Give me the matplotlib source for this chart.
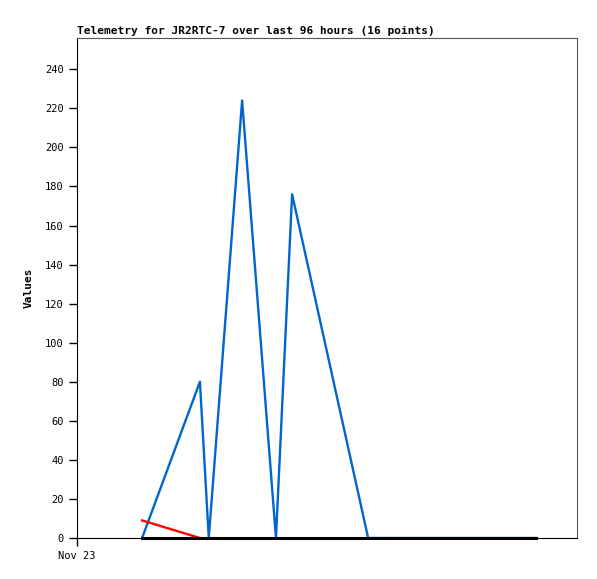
import matplotlib.pyplot as plt
import numpy as np

# hours since Nov 23 00:00
blue_x = [12.5, 23.6, 25.3, 31.7, 38.2, 41.3, 55.9, 70.0, 88.1]
blue_y = [0, 80, 0, 224, 0, 176, 0, 0, 0]
red_x = [12.5, 23.6]
red_y = [9, 0]
black_x = [12.5, 30.0, 50.0, 70.0, 88.1]
black_y = [0, 0, 0, 0, 0]

xticks = [0]
xtick_labels = ['Nov 23']
yticks = np.arange(0, 241, 20)

plt.rcParams['font.family'] = 'DejaVu Sans Mono'

fig = plt.figure(figsize=(5.97, 5.79), dpi=100)
ax = fig.add_axes([77 / 597, 41 / 579, 500 / 597, 500 / 579])

ax.plot(blue_x, blue_y, color='#0066cc', linewidth=1.7, clip_on=False, zorder=3)
ax.plot(red_x, red_y, color='#ff0000', linewidth=1.7, clip_on=False, zorder=4)
ax.plot(black_x, black_y, color='#000000', linewidth=2.2, clip_on=False, zorder=5)

ax.set_xlim(0, 96)
ax.set_ylim(0, 256)
ax.set_xticks(xticks)
ax.set_xticklabels(xtick_labels)
ax.set_yticks(yticks)
ax.tick_params(labelsize=7.5, length=6, width=1, color='black')

for s in ['top', 'right']:
    ax.spines[s].set_color('#555555')
for s in ['left', 'bottom']:
    ax.spines[s].set_color('black')

ax.set_ylabel('Values', fontsize=8, fontweight='bold', labelpad=8)
ax.set_title('Telemetry for JR2RTC-7 over last 96 hours (16 points)',
             fontsize=8, fontweight='bold', loc='left', pad=3)

fig.savefig('out.png', dpi=100)
